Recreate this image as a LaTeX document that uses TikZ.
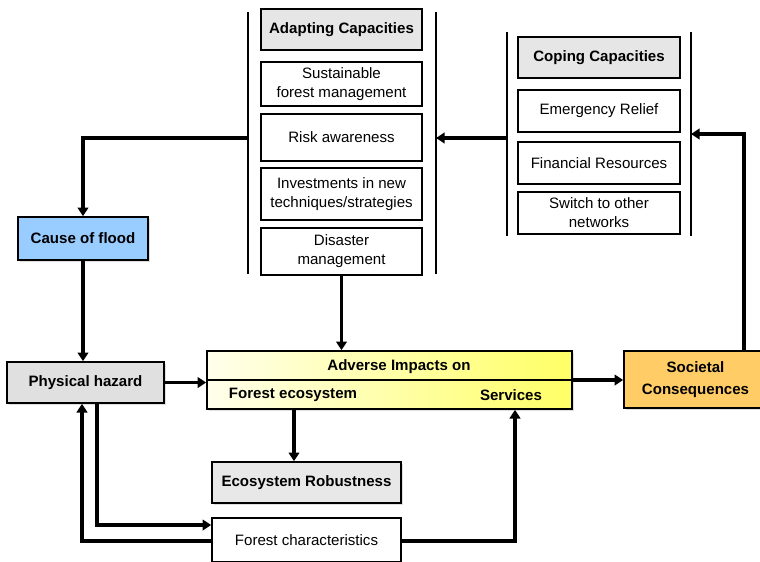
\documentclass[tikz,border=0pt]{standalone}
\usepackage{fontspec}
\setmainfont{Liberation Sans}
\usetikzlibrary{arrows.meta,shadows}

\definecolor{headgray}{HTML}{E6E6E6}
\definecolor{hazardgray}{HTML}{E0E0E0}
\definecolor{robustgray}{HTML}{E8E8E8}
\definecolor{floodblue}{HTML}{99CCFF}
\definecolor{societyorange}{HTML}{FFCC66}
\definecolor{impactlight}{HTML}{FFFFEC}
\definecolor{impactyellow}{HTML}{FFFF66}

% box given by its corners (x1,y1) and (x2,y2)
\newcommand\boxnode[7]{%
  \node[#6, minimum width={(#4-#2)*0.75pt}, minimum height={(#5-#3)*0.75pt}]
    (#1) at ({(#2+#4)/2},{(#3+#5)/2}) {#7};}

\begin{document}
\begin{tikzpicture}[x=0.75pt,y=-0.75pt,
  every node/.style={font=\fontsize{11.3}{14.3}\selectfont, align=center, inner sep=0pt},
  plain/.style={draw, line width=1.25pt, fill=white},
  boldbox/.style={plain, font=\fontsize{11.3}{16}\selectfont\bfseries},
  head/.style={boldbox, fill=headgray},
  shade/.style={drop shadow={shadow xshift=1.2pt, shadow yshift=-1.2pt, opacity=0.25}},
  bracketline/.style={line width=1.2pt},
  flow/.style={line width=2.7pt, -{Triangle[length=6.5pt,width=8pt]}},
  label/.style={font=\fontsize{11.3}{14}\selectfont\bfseries}]
\useasboundingbox (0,0) rectangle (760,561);

% adapting capacities column
\boxnode{adapt}{261}{9}{422}{50}{head}{Adapting Capacities}
\boxnode{sfm}{261}{62}{422}{106}{plain}{Sustainable\\forest management}
\boxnode{risk}{261}{114}{422}{161}{plain}{Risk awareness}
\boxnode{invest}{261}{168}{422}{220}{plain}{Investments in new\\techniques/strategies}
\boxnode{disaster}{261}{228}{422}{275}{plain}{Disaster\\management}
\coordinate (aLtop) at (248,12);
\coordinate (aLbot) at (248,274);
\coordinate (aRtop) at (436,12);
\coordinate (aRbot) at (436,274);
\draw[bracketline] (aLtop) -- (aLbot);
\draw[bracketline] (aRtop) -- (aRbot);

% coping capacities column
\boxnode{cope}{518}{37}{680}{78}{head}{Coping Capacities}
\boxnode{relief}{518}{90}{680}{132}{plain}{Emergency Relief}
\boxnode{finance}{518}{142}{680}{184}{plain}{Financial Resources}
\boxnode{switch}{518}{192}{680}{234}{plain}{Switch to other\\networks}
\coordinate (cLtop) at (507,32);
\coordinate (cLbot) at (507,236);
\coordinate (cRtop) at (691,32);
\coordinate (cRbot) at (691,236);
\draw[bracketline] (cLtop) -- (cLbot);
\draw[bracketline] (cRtop) -- (cRbot);

% main chain
\boxnode{cause}{18}{217}{148}{260}{boldbox, fill=floodblue, shade}{Cause of flood}
\boxnode{phys}{7}{362}{164}{403}{boldbox, fill=hazardgray, shade}{Physical hazard}
\boxnode{adv}{207}{351}{572}{409}{plain, left color=impactlight, right color=impactyellow, shade}{}
\draw[line width=1.25pt] (adv.west) -- (adv.east);
\node[label] (advtitle) at (399,367) {Adverse Impacts on};
\node[label] (advforest) at (293,395) {Forest ecosystem};
\node[label] (advservices) at (511,395) {Services};
\boxnode{soc}{624}{351}{767}{408}{boldbox, fill=societyorange, shade}{Societal\\Consequences}
\boxnode{eco}{212}{462}{401}{503}{boldbox, fill=robustgray, shade}{Ecosystem Robustness}
\boxnode{fchar}{212}{518}{401}{562}{plain}{Forest characteristics}

% turning points of the connectors
\coordinate (adaptOut) at (248,138);
\coordinate (copeOut) at (507,138);
\coordinate (socTurn) at (744,134);
\coordinate (ecoX) at (294,0);
\coordinate (servX) at (515,0);
\coordinate (hazDown) at (97,525);
\coordinate (hazUp) at (82,541);

% connectors
\draw[flow] (adaptOut) -| (cause.north);
\draw[flow] (copeOut) -- (aRtop |- copeOut);
\draw[flow] (soc.north -| socTurn) -- (socTurn) -- (cRtop |- socTurn);
\draw[flow] (disaster.south) -- (adv.north -| disaster.south);
\draw[flow] (cause.south) -- (phys.north -| cause.south);
\draw[flow] (phys.east) -- (adv.west |- phys.east);
\draw[flow] (adv.east) -- (soc.west |- adv.east);
\draw[flow] (adv.south -| ecoX) -- (eco.north -| ecoX);
\draw[flow] (phys.south -| hazDown) |- (fchar.west |- hazDown);
\draw[flow] (fchar.west |- hazUp) -| (phys.south -| hazUp);
\draw[flow] (fchar.east |- hazUp) -| (adv.south -| servX);
\end{tikzpicture}
\end{document}
